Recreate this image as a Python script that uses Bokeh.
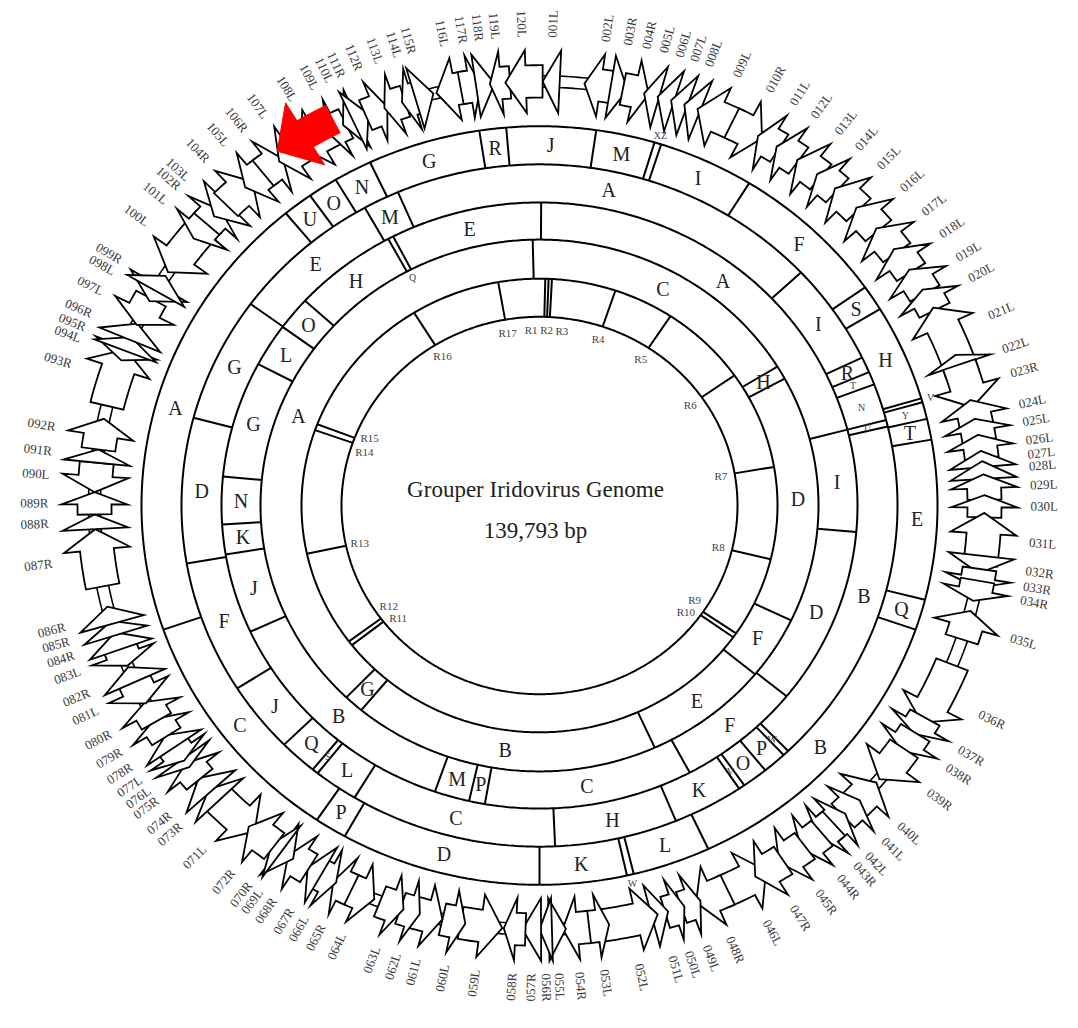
import numpy as np
from bokeh.plotting import figure
from bokeh.models import Range1d, ColumnDataSource
from bokeh.embed import file_html
from bokeh.resources import INLINE
from bokeh.core.properties import value

# ---------------- data ----------------
TITLE = "Grouper Iridovirus Genome"
SUBTITLE = "139,793 bp"

gene_names = ["001L","002L","003R","004R","005L","006L","007L","008L","009L","010R",
"011L","012L","013L","014L","015L","016L","017L","018L","019L","020L",
"021L","022L","023R","024L","025L","026L","027L","028L","029L","030L",
"031L","032R","033R","034R","035L","036R","037R","038R","039R","040L",
"041L","042L","043R","044R","045R","046L","047R","048R","049L","050L",
"051L","052L","053L","054R","055L","056R","057R","058R","059L","060L",
"061L","062L","063L","064L","065R","066L","067R","068R","069L","070R",
"071L","072R","073R","074R","075R","076L","077L","078R","079R","080R",
"081L","082R","083L","084R","085R","086R","087R","088R","089R","090L",
"091R","092R","093R","094L","095R","096R","097L","098L","099R","100L",
"101L","102R","103L","104R","105L","106R","107L","108L","109L","110L",
"111R","112R","113L","114L","115R","116L","117R","118R","119L","120L"]

# map position of each ORF (degrees of the circular map, clockwise from top)
gene_start = [0.4,5.8,9.2,10.8,13.6,15.4,17.2,19.0,20.8,25.6,
29.4,32.2,35.4,38.6,41.6,45.4,49.2,52.8,56.2,59.4,
62.2,69.2,70.6,75.6,78.2,80.4,82.6,84.0,85.8,88.6,
91.0,96.8,98.6,100.2,104.4,112.0,120.0,122.4,125.0,130.8,
134.0,136.6,138.6,140.6,143.4,149.4,146.8,155.0,158.8,161.0,
163.2,164.6,171.0,173.6,176.6,178.4,179.8,181.8,184.8,189.6,
192.6,195.6,197.8,201.8,205.0,207.2,209.4,211.2,213.6,215.4,
219.8,216.6,226.0,227.6,229.8,231.9,233.0,235.2,237.0,239.4,
242.2,245.4,247.8,250.2,252.2,253.8,259.0,266.8,268.8,271.8,
275.8,277.6,283.6,290.0,291.4,293.0,295.2,298.8,300.4,303.4,
309.0,311.6,313.0,315.2,318.6,321.6,324.2,327.6,331.6,333.8,
335.2,337.0,339.6,342.0,343.8,346.6,349.8,351.8,353.6,355.6]
gene_end = [2.6,9.6,11.4,14.2,15.6,17.6,19.4,21.2,26.4,30.0,
32.6,35.6,39.2,42.0,45.8,49.6,53.4,56.6,60.0,62.6,
70.0,71.8,76.6,79.4,81.2,83.6,84.8,86.4,89.2,91.6,
98.0,99.2,101.2,103.0,108.4,120.8,122.6,125.4,130.2,135.0,
137.0,139.6,141.2,144.0,147.4,155.6,151.0,159.4,161.4,163.6,
165.4,172.0,173.8,177.0,178.8,180.0,182.2,184.6,190.2,192.6,
196.4,198.2,201.0,205.6,207.6,209.8,211.4,214.4,215.8,217.0,
226.4,220.8,228.0,230.0,232.6,233.3,235.6,237.2,239.8,242.4,
246.0,247.6,250.8,252.6,254.2,256.2,266.8,268.8,271.8,275.8,
277.6,281.8,291.6,291.8,293.4,295.4,299.2,301.2,302.8,310.8,
312.0,314.2,315.4,319.8,322.4,324.8,328.0,332.4,334.2,335.8,
337.4,340.0,342.4,344.6,346.2,351.2,352.4,354.2,356.2,360.4]

# restriction fragment rings (outer -> inner): fragment start (deg) and letter
ring1_start = [355.2,8.2,16.8,17.8,31.8,54.9,58.8,73.6,74.2,76.8,80.0,104.4,109.1,
               154.9,166.3,167.3,180.0,209.3,214.0,250.9,320.4,324.8,329.2,334.8,351.3]
ring1_frag = ["J","M","XZ","I","F","S","H","V","Y","T","E","Q","B",
              "L","W","K","D","P","C","A","U","O","N","G","R"]
ring2_start = [336.7,46.9,64.3,67.0,69.2,75.5,76.6,136.0,137.0,140.9,145.1,146.1,
               157.6,177.5,211.1,218.3,219.3,225.5,237.6,260.2,284.9,306.2,330.8]
ring2_frag = ["A","I","R","T","N","U","B","W","P","O","V","K",
              "H","C","L","S","Q","J","F","D","G","E","M"]
ring3_start = [332.6,0.3,75.5,95.0,129.0,151.8,189.9,192.8,199.2,245.4,260.7,
               266.4,275.5,297.8,306.1,312.5,331.6]
ring3_frag = ["E","A","I","D","F","C","P","M","B","J","K","N","G","L","O","H","Q"]
ring4_start = [358.6,58.5,61.5,115.6,129.4,155.6,219.7,223.8]
ring4_frag = ["C","H","D","F","E","B","G","A"]

repeat_names = ["R1","R2","R3","R4","R5","R6","R7","R8","R9","R10",
                "R11","R12","R13","R14","R15","R16","R17"]
repeat_pos = [1.4,2.2,3.0,18.6,33.4,55.0,80.2,103.7,124.3,125.5,
              232.0,233.2,257.7,289.4,291.0,328.2,350.0]

highlight = ("108L", 324.8, 333.0)   # red pointer annotation (start, end deg)

# ---------------- geometry / style ----------------
CX, CY, SY = 547.0, 515.0, 0.953
RADII = [398, 358, 318, 279, 238, 198]
RC, WB, WH, WK = 445.0, 17.0, 33.0, 6.0
SERIF = value("Liberation Serif")

def P(theta, r):
    t = np.radians(np.asarray(theta, float))
    return CX + r * np.sin(t), CY + SY * r * np.cos(t)

def arrow(a, b, strand, rc=RC, wb=WB, wh=WH, head=2.8):
    L = b - a
    h = L if L < 2.5 else min(head, 0.55 * L)
    def arc(t0, t1, r):
        n = max(2, int(abs(t1 - t0) / 0.4) + 1)
        return np.linspace(t0, t1, n), np.full(n, r)
    pts_t, pts_r = [], []
    if strand == "R":
        base = b - h
        if base > a:
            t, r = arc(a, base, rc + wb); pts_t += list(t); pts_r += list(r)
        pts_t += [base, b, base]; pts_r += [rc + wh, rc, rc - wh]
        if base > a:
            t, r = arc(base, a, rc - wb); pts_t += list(t); pts_r += list(r)
    else:
        base = a + h
        pts_t += [a, base]; pts_r += [rc, rc + wh]
        if b > base:
            t, r = arc(base, b, rc + wb); pts_t += list(t); pts_r += list(r)
            t, r = arc(b, base, rc - wb); pts_t += list(t); pts_r += list(r)
        pts_t += [base]; pts_r += [rc - wh]
    t = np.radians(np.array(pts_t)); r = np.array(pts_r)
    return list(CX + r * np.sin(t)), list(CY + SY * r * np.cos(t))

def spread(angles, sep, iters=400):
    a = np.array(angles, float)
    order = np.argsort(a)
    s = a[order].copy()
    for _ in range(iters):
        moved = False
        for i in range(1, len(s)):
            d = s[i] - s[i - 1]
            if d < sep - 1e-9:
                push = (sep - d) / 2
                s[i - 1] -= push; s[i] += push; moved = True
        if not moved:
            break
    out = np.empty_like(s); out[order] = s
    return out

p = figure(width=1062, height=1012, x_range=Range1d(8, 1070), y_range=Range1d(8, 1020),
           output_backend="svg", toolbar_location=None, min_border=0,
           x_axis_location=None, y_axis_location=None)
p.grid.visible = False
p.outline_line_color = None
p.background_fill_color = "white"
p.border_fill_color = "white"

# concentric rings
th = np.linspace(0, 360, 721)
for r in RADII:
    x, y = P(th, r)
    p.line(x, y, line_color="black", line_width=2)

rings = [(ring1_start, ring1_frag, RADII[1], RADII[0]),
         (ring2_start, ring2_frag, RADII[2], RADII[1]),
         (ring3_start, ring3_frag, RADII[3], RADII[2]),
         (ring4_start, ring4_frag, RADII[4], RADII[3])]
SMALL = [{"XZ", "V", "Y", "W"}, {"T", "U", "W", "V", "S", "N"}, {"Q"}, set()]
OUTSIDE = [{"XZ": 407, "V": 407, "W": 407}, {}, {"Q": 271}, {}]

bx0, by0, bx1, by1 = [], [], [], []
big = dict(x=[], y=[], t=[])
small = dict(x=[], y=[], t=[])
for k, (starts, frags, rin, rout) in enumerate(rings):
    n = len(starts)
    for i in range(n):
        s = starts[i]
        e = starts[(i + 1) % n]
        if e <= s:
            e += 360
        x0, y0 = P(s, rin); x1, y1 = P(s, rout)
        bx0.append(x0); by0.append(y0); bx1.append(x1); by1.append(y1)
        m = 0.5 * (s + e)
        rr = OUTSIDE[k].get(frags[i], 0.5 * (rin + rout))
        xm, ym = P(m, rr)
        d = small if frags[i] in SMALL[k] else big
        d["x"].append(float(xm)); d["y"].append(float(ym)); d["t"].append(frags[i])
for a in repeat_pos:
    x0, y0 = P(a, RADII[5]); x1, y1 = P(a, RADII[4])
    bx0.append(x0); by0.append(y0); bx1.append(x1); by1.append(y1)
p.segment(bx0, by0, bx1, by1, line_color="black", line_width=2)

p.text(x="x", y="y", text="t", source=ColumnDataSource(big), text_font=SERIF,
       text_font_size="20px", text_color="#222222", text_align="center",
       text_baseline="middle")
p.text(x="x", y="y", text="t", source=ColumnDataSource(small), text_font=SERIF,
       text_font_size="10px", text_color="#444444", text_align="center",
       text_baseline="middle")

# repeat labels inside the innermost circle
ra = spread(repeat_pos, 4.8)
rx, ry = P(ra, 184)
p.text(x=list(rx), y=list(ry), text=repeat_names, text_font=SERIF, text_font_size="11px",
       text_color="#444444", text_align="center", text_baseline="middle")

# genome backbone (double line)
for r in (RC - WK, RC + WK):
    x, y = P(th, r)
    p.line(x, y, line_color="black", line_width=1.6)

# ORF arrows
xs, ys = [], []
for nm, a, b in zip(gene_names, gene_start, gene_end):
    x, y = arrow(a, b, nm[-1])
    xs.append(x); ys.append(y)
p.patches(xs, ys, fill_color="white", line_color="black", line_width=1.8,
          line_join="miter")

# ORF labels (radial)
mids = [(a + b) / 2 for a, b in zip(gene_start, gene_end)]
la = spread(mids, 1.5)
R_LAB = 491
right = dict(x=[], y=[], t=[], ang=[])
left = dict(x=[], y=[], t=[], ang=[])
for nm, a in zip(gene_names, la):
    t = np.radians(a)
    x, y = P(a, R_LAB)
    phi = np.arctan2(SY * np.cos(t), np.sin(t))
    if np.sin(t) >= 0:
        d = right
    else:
        d = left; phi += np.pi
    d["x"].append(float(x)); d["y"].append(float(y)); d["t"].append(nm); d["ang"].append(float(phi))
p.text(x="x", y="y", text="t", angle="ang", source=ColumnDataSource(right), text_font=SERIF,
       text_font_size="13px", text_color="#3a3a3a", text_align="left", text_baseline="middle")
p.text(x="x", y="y", text="t", angle="ang", source=ColumnDataSource(left), text_font=SERIF,
       text_font_size="13px", text_color="#3a3a3a", text_align="right", text_baseline="middle")

# red pointer
hx, hy = arrow(highlight[1], highlight[2], "L", rc=455, wb=16, wh=38, head=4.2)
p.patch(hx, hy, fill_color="#ff0000", line_color="#ff0000", line_width=1)

# centre title
p.text(x=[CX - 4], y=[CY + 16], text=[TITLE], text_font=SERIF, text_font_size="23px",
       text_color="#222222", text_align="center", text_baseline="middle")
p.text(x=[CX - 4], y=[CY - 25], text=[SUBTITLE], text_font=SERIF, text_font_size="23px",
       text_color="#222222", text_align="center", text_baseline="middle")

open("out.html", "w").write(file_html(p, INLINE))
